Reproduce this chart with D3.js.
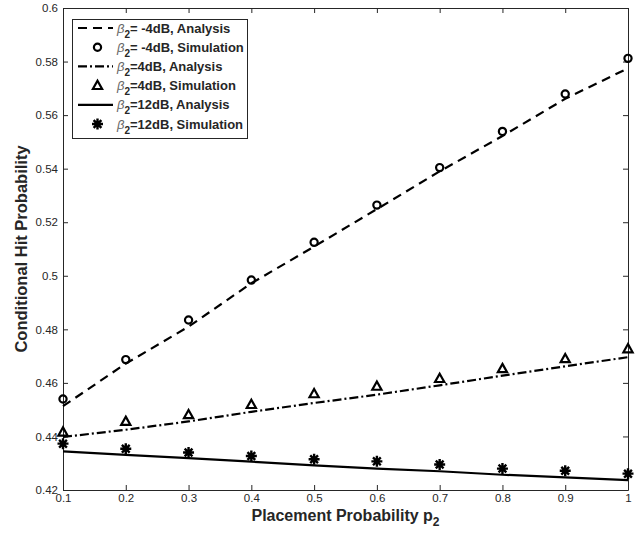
<!DOCTYPE html>
<html>
<head>
<meta charset="utf-8">
<script src="https://cdn.jsdelivr.net/npm/d3@7"></script>
<style>
  body { margin: 0; background: #fff; }
  svg { display: block; font-family: "Liberation Sans", Arial, Helvetica, sans-serif; }
</style>
</head>
<body>
<svg id="chart" width="644" height="533"></svg>
<script>
// data
const p2 = [0.1, 0.2, 0.3, 0.4, 0.5, 0.6, 0.7, 0.8, 0.9, 1];
const anaM4 = [0.4513, 0.4672, 0.481, 0.4972, 0.5109, 0.5249, 0.539, 0.5522, 0.5661, 0.5775];
const simM4 = [0.454, 0.4687, 0.4835, 0.4984, 0.5125, 0.5264, 0.5404, 0.5539, 0.5679, 0.5812];
const ana4 = [0.4398, 0.4425, 0.4456, 0.4492, 0.4525, 0.4556, 0.4591, 0.4627, 0.4662, 0.4696];
const sim4 = [0.4416, 0.4456, 0.4481, 0.4519, 0.4559, 0.4587, 0.4616, 0.4653, 0.469, 0.4727];
const ana12 = [0.4344, 0.4331, 0.4319, 0.4306, 0.4292, 0.428, 0.427, 0.4257, 0.4247, 0.4237];
const sim12 = [0.4373, 0.4354, 0.434, 0.4327, 0.4315, 0.4307, 0.4295, 0.428, 0.4272, 0.4261];
const xTicks = [0.1, 0.2, 0.3, 0.4, 0.5, 0.6, 0.7, 0.8, 0.9, 1];
const yTicks = [0.42, 0.44, 0.46, 0.48, 0.5, 0.52, 0.54, 0.56, 0.58, 0.6];
const legendLabels = ["= -4dB, Analysis", "= -4dB, Simulation", "=4dB, Analysis",
  "=4dB, Simulation", "=12dB, Analysis", "=12dB, Simulation"];

const pl = 63, pr = 628, pt = 8, pb = 490;
const svg = d3.select("#chart");

const x = d3.scaleLinear().domain([0.1, 1]).range([pl, pr]);
const y = d3.scaleLinear().domain([0.42, 0.6]).range([pb, pt]);
const fmt = d => String(+d.toFixed(2));

// axes, MATLAB style: box with inward ticks
const axColor = "#262626";
const styleAxis = g => {
  g.select(".domain").attr("stroke", axColor);
  g.selectAll(".tick line").attr("stroke", axColor);
  g.selectAll(".tick text").attr("fill", axColor).attr("font-size", 11.5);
};
svg.append("g").attr("transform", `translate(0,${pb})`)
  .call(d3.axisBottom(x).tickValues(xTicks).tickFormat(fmt).tickSizeInner(-5).tickSizeOuter(0).tickPadding(4))
  .call(styleAxis);
svg.append("g").attr("transform", `translate(${pl},0)`)
  .call(d3.axisLeft(y).tickValues(yTicks).tickFormat(fmt).tickSizeInner(-5).tickSizeOuter(0).tickPadding(5))
  .call(styleAxis);
svg.append("g").attr("transform", `translate(0,${pt})`)
  .call(d3.axisTop(x).tickValues(xTicks).tickFormat("").tickSizeInner(-5).tickSizeOuter(0))
  .call(styleAxis);
svg.append("g").attr("transform", `translate(${pr},0)`)
  .call(d3.axisRight(y).tickValues(yTicks).tickFormat("").tickSizeInner(-5).tickSizeOuter(0))
  .call(styleAxis);

// axis titles
svg.append("text")
  .attr("x", (pl + pr) / 2).attr("y", 521)
  .attr("text-anchor", "middle").attr("font-weight", "bold").attr("font-size", 16).attr("fill", axColor)
  .text("Placement Probability p")
  .append("tspan").attr("dy", 5).attr("font-size", 12).text("2");
svg.append("text")
  .attr("transform", `translate(27,${(pt + pb) / 2}) rotate(-90)`)
  .attr("text-anchor", "middle").attr("font-weight", "bold").attr("font-size", 16.5).attr("fill", axColor)
  .text("Conditional Hit Probability");

// lines
const dashes = ["9,6", "9,3,2,3", null];
const line = d3.line().x((d, i) => x(p2[i])).y(d => y(d));
[anaM4, ana4, ana12].forEach((s, k) => {
  svg.append("path").attr("d", line(s)).attr("fill", "none")
    .attr("stroke", "#000").attr("stroke-width", 2.2)
    .attr("stroke-dasharray", dashes[k]);
});

// markers
const circle = (g, cx, cy) => g.append("circle").attr("cx", cx).attr("cy", cy).attr("r", 3.6)
  .attr("fill", "none").attr("stroke", "#000").attr("stroke-width", 2.2);
const tri = (g, cx, cy) => g.append("path")
  .attr("d", `M${cx},${cy - 4.8}L${cx + 4.6},${cy + 3.4}L${cx - 4.6},${cy + 3.4}Z`)
  .attr("fill", "none").attr("stroke", "#000").attr("stroke-width", 2.2).attr("stroke-linejoin", "miter");
const star = (g, cx, cy) => {
  const r = 5.5, q = r * 0.707;
  g.append("path")
    .attr("d", `M${cx - r},${cy}H${cx + r}M${cx},${cy - r}V${cy + r}` +
      `M${cx - q},${cy - q}L${cx + q},${cy + q}M${cx - q},${cy + q}L${cx + q},${cy - q}`)
    .attr("stroke", "#000").attr("stroke-width", 2.4);
};
const markers = svg.append("g");
simM4.forEach((v, i) => circle(markers, x(p2[i]), y(v)));
sim4.forEach((v, i) => tri(markers, x(p2[i]), y(v)));
sim12.forEach((v, i) => star(markers, x(p2[i]), y(v)));

// legend
const lg = svg.append("g");
lg.append("rect").attr("x", 72.5).attr("y", 19.5).attr("width", 175).attr("height", 119)
  .attr("fill", "#fff").attr("stroke", axColor).attr("stroke-width", 1);
legendLabels.forEach((lab, i) => {
  const cy = 28 + i * 19.2;
  if (i % 2 === 0) {
    lg.append("line").attr("x1", 78).attr("x2", 113).attr("y1", cy).attr("y2", cy)
      .attr("stroke", "#000").attr("stroke-width", 2.2).attr("stroke-dasharray", dashes[i / 2]);
  } else {
    [circle, tri, star][(i - 1) / 2](lg, 97.5, cy);
  }
  const t = lg.append("text").attr("x", 117).attr("y", cy + 4.5)
    .attr("font-size", 13).attr("font-weight", "bold").attr("fill", axColor);
  t.append("tspan").attr("font-style", "italic").attr("font-weight", "normal")
    .attr("fill", "#666").text("β");
  t.append("tspan").attr("dy", 5).attr("font-size", 10).text("2");
  t.append("tspan").attr("dy", -5).text(lab);
});
</script>
</body>
</html>
